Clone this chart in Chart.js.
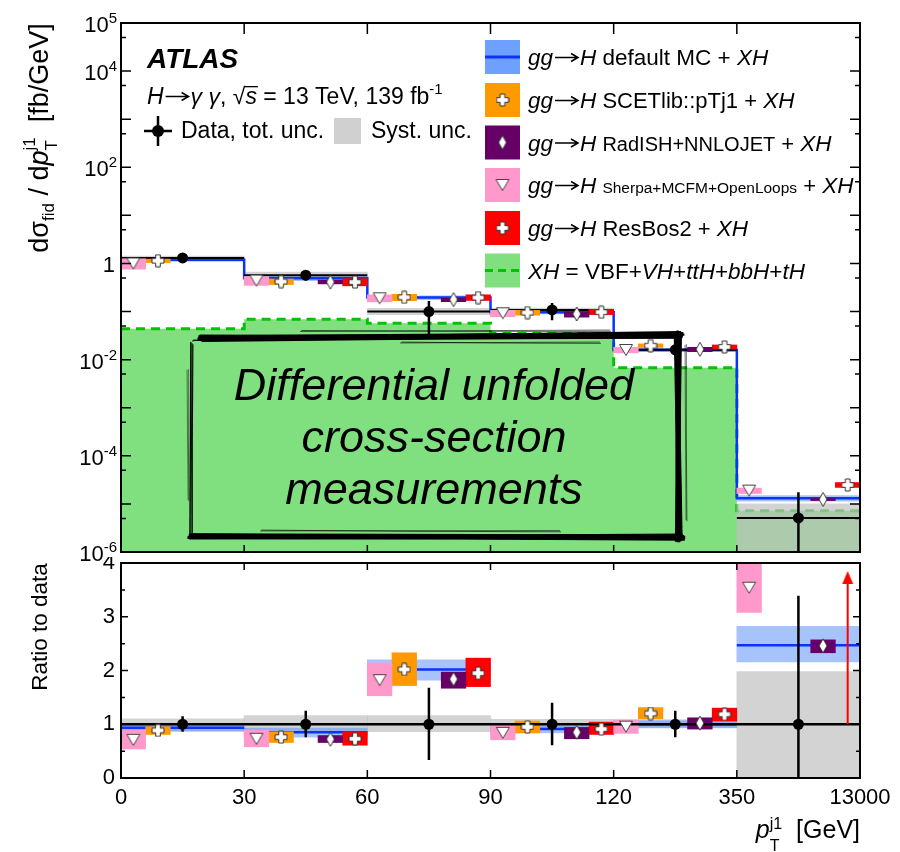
<!DOCTYPE html>
<html>
<head>
<meta charset="utf-8">
<title>pT j1 differential cross-section</title>
<script src="https://cdn.jsdelivr.net/npm/chart.js@4.4.1/dist/chart.umd.min.js"></script>
<style>
  html, body { margin: 0; padding: 0; background: #fff; }
  #wrap { position: relative; width: 900px; height: 852px; }
  canvas { position: absolute; left: 0; }
  #chartTop { top: 0; }
  #chartRatio { top: 557px; }
</style>
</head>
<body>
<div id="wrap">
  <canvas id="chartTop" width="900" height="572"></canvas>
  <canvas id="chartRatio" width="900" height="295"></canvas>
</div>
<script>
// =========================================
// BINS
// =========================================
const binLabels = ['0', '30', '60', '90', '120', '350', '13000'];
const nBins = binLabels.length - 1;

// position of each entry inside a bin (fraction of bin width)
const slotSherpa = 0.1, slotScet = 0.3, slotData = 0.5, slotRadish = 0.7, slotResbos = 0.9;

// =========================================
// DATA  [fb/GeV]
// =========================================
const dataXsec   = [1.30, 0.57, 0.100, 0.108, 0.016, 5.1e-6];
const dataXsecLo = [1.12, 0.44, 0.034, 0.066, 0.012, 1e-7];
const dataXsecHi = [1.50, 0.71, 0.166, 0.150, 0.020, 1.75e-5];

const dataRatio   = [1, 1, 1, 1, 1, 1];
const dataRatioLo = [0.86, 0.76, 0.335, 0.61, 0.76, -0.5];
const dataRatioHi = [1.15, 1.25, 1.68, 1.40, 1.25, 3.39];
const systLo = [0.87, 0.86, 0.86, 0.92, 0.94, 0.02];
const systHi = [1.10, 1.16, 1.16, 1.09, 1.06, 1.98];

// =========================================
// PREDICTIONS
// =========================================
const xhXsec = [0.044, 0.069, 0.057, 0.035, 0.0068, 7.2e-6];

const mcXsec    = [1.20, 0.49, 0.195, 0.097, 0.0159, 1.31e-5];
const mcRatio   = [0.936, 0.85, 2.02, 0.91, 1.00, 2.47];
const mcRatioLo = [0.87, 0.76, 1.82, 0.84, 0.93, 2.16];
const mcRatioHi = [0.98, 0.93, 2.20, 0.97, 1.08, 2.82];

const scetXsec    = [1.14, 0.42, 0.198, 0.095, 0.0195, null];
const scetRatio   = [0.885, 0.76, 2.02, 0.95, 1.20, null];
const scetRatioLo = [0.81, 0.66, 1.72, 0.84, 1.10, null];
const scetRatioHi = [0.955, 0.86, 2.33, 1.06, 1.31, null];

const radishXsec    = [null, 0.41, 0.177, 0.089, 0.0164, 1.24e-5];
const radishRatio   = [null, 0.72, 1.84, 0.85, 1.02, 2.46];
const radishRatioLo = [null, 0.66, 1.67, 0.73, 0.91, 2.33];
const radishRatioHi = [null, 0.79, 1.97, 0.94, 1.12, 2.57];

const sherpaXsec    = [1.00, 0.44, 0.189, 0.092, 0.0159, 1.89e-5];
const sherpaRatio   = [0.71, 0.73, 1.82, 0.84, 0.955, 3.54];
const sherpaRatioLo = [0.54, 0.58, 1.53, 0.71, 0.83, 3.08];
const sherpaRatioHi = [0.89, 0.89, 2.14, 0.97, 1.08, 4.00];

const resbosXsec    = [null, 0.41, 0.195, 0.097, 0.0184, 2.48e-5];
const resbosRatio   = [null, 0.73, 1.95, 0.91, 1.185, 4.90];
const resbosRatioLo = [null, 0.61, 1.70, 0.81, 1.06, 4.35];
const resbosRatioHi = [null, 0.86, 2.23, 1.04, 1.30, 5.50];

// ResBos2 goes off scale in the last bin: arrow from 1 upwards
const resbosArrowBin = 5;
const resbosArrow = [1.0, 3.73];

// =========================================
// STYLE
// =========================================
const FONT = '"Liberation Sans", Arial, Helvetica, sans-serif';
const font = (size, style) => `${style || ''} ${size}px ${FONT}`.trim();

const PINK = '#ff99cc', ORANGE = '#ff9900', PURPLE = '#660066', RED = '#ff0000';
const BLUE = '#0a33ff', BLUE_BAND = 'rgba(95,145,250,0.55)';
const GREEN_FILL = '#80e080', GREEN_LINE = '#00c400';
const SYST = 'rgba(192,192,192,0.7)';

Chart.defaults.font.family = FONT;
Chart.defaults.color = '#000';

const binPx = (900 - 121 - 40) / nBins;
const slotPx = binPx / 5;

// =========================================
// MARKERS
// =========================================
function makeMarker(w, h, pts, fill, stroke){
  const c = document.createElement('canvas');
  c.width = w; c.height = h;
  const g = c.getContext('2d');
  g.beginPath();
  pts.forEach(([x, y], i) => i ? g.lineTo(x, y) : g.moveTo(x, y));
  g.closePath();
  g.fillStyle = fill;
  g.fill();
  if (stroke) { g.strokeStyle = stroke; g.lineWidth = 1; g.stroke(); }
  return c;
}

const plusMark = makeMarker(14, 14,
  [[4.7,1],[9.3,1],[9.3,4.7],[13,4.7],[13,9.3],[9.3,9.3],[9.3,13],[4.7,13],[4.7,9.3],[1,9.3],[1,4.7],[4.7,4.7]],
  '#fff', '#333');
const diamondMark = makeMarker(10, 16, [[5,1],[9,8],[5,15],[1,8]], '#fff', '#333');
const triMark = makeMarker(16, 14, [[1.5,1.5],[14.5,1.5],[8,12.5]], '#fff', '#444');
const arrowMark = makeMarker(12, 13, [[6,0],[11.5,13],[0.5,13]], RED);

// =========================================
// DATASET HELPERS
// =========================================
function steps(vals){
  const pts = vals.map((v, i) => ({ x: i, y: v }));
  pts.push({ x: nBins, y: vals[nBins - 1] });
  return pts;
}

function flats(vals){
  const pts = [];
  vals.forEach((v, i) => {
    if (v == null) return;
    pts.push({ x: i, y: v }, { x: i + 1, y: v }, { x: i + 1, y: null });
  });
  return pts;
}

function vbars(lo, hi, off){
  const pts = [];
  lo.forEach((v, i) => {
    pts.push({ x: i + off, y: v }, { x: i + off, y: hi[i] }, { x: i + off, y: null });
  });
  return pts;
}

function spans(lo, hi, off){
  return lo.map((v, i) => v == null ? null : { x: i + off, y: [v, hi[i]] }).filter(Boolean);
}

// relative band (read in the ratio panel) placed around a cross-section
function spansAround(xsec, ratio, lo, hi, off){
  return xsec.map((v, i) => {
    if (v == null) return null;
    const r = ratio ? ratio[i] : 1;
    return { x: i + off, y: [v * lo[i] / r, v * hi[i] / r] };
  }).filter(Boolean);
}

function marks(vals, off){
  return vals.map((v, i) => v == null ? null : { x: i + off, y: v }).filter(Boolean);
}

const lineDs = (data, color, width, order, extra) => Object.assign({
  type: 'line', data, borderColor: color, borderWidth: width,
  pointRadius: 0, fill: false, spanGaps: false, order
}, extra || {});

const barDs = (data, color, thickness, order) => ({
  type: 'bar', data, backgroundColor: color, borderWidth: 0,
  barThickness: thickness, grouped: false, order, clip: 0
});

const markDs = (data, style, order, extra) => Object.assign({
  type: 'line', data, showLine: false, pointStyle: style,
  pointRadius: 6, borderWidth: 0, order, clip: 0
}, extra || {});

// =========================================
// DRAW HELPERS
// =========================================
function drawRich(ctx, x, y, parts){
  let cx = x;
  parts.forEach(p => {
    if (p.arrow) {
      // thin right arrow, drawn at mid cap height
      const ax = cx + 2, ay = y - 7.5, len = p.arrow - 4;
      ctx.save();
      ctx.strokeStyle = ctx.fillStyle;
      ctx.lineWidth = 1.5;
      ctx.beginPath();
      ctx.moveTo(ax, ay); ctx.lineTo(ax + len, ay);
      ctx.moveTo(ax + len - 7, ay - 4); ctx.lineTo(ax + len, ay); ctx.lineTo(ax + len - 7, ay + 4);
      ctx.stroke();
      ctx.restore();
      cx += p.arrow;
      return;
    }
    ctx.font = p.f;
    const w = ctx.measureText(p.t).width;
    ctx.fillText(p.t, cx, y + (p.dy || 0));
    if (p.over) ctx.fillRect(cx - 1, y - 18, w + 2, 1.3);
    if (!p.stay) cx += w;
  });
  return cx - x;
}

function richWidth(ctx, parts){
  let w = 0;
  parts.forEach(p => {
    if (p.arrow) { w += p.arrow; return; }
    ctx.font = p.f;
    if (!p.stay) w += ctx.measureText(p.t).width;
  });
  return w;
}

function drawFrame(chart, yTicks, topLen, bottomLen){
  const { ctx, chartArea: a, scales: { x, y } } = chart;
  ctx.save();
  ctx.strokeStyle = '#000';
  ctx.lineWidth = 1.5;
  ctx.beginPath();
  for (let i = 1; i < nBins; i++) {
    const px = x.getPixelForValue(i);
    ctx.moveTo(px, a.top); ctx.lineTo(px, a.top + topLen);
    ctx.moveTo(px, a.bottom); ctx.lineTo(px, a.bottom - bottomLen);
  }
  yTicks.forEach(([v, len]) => {
    const py = y.getPixelForValue(v);
    ctx.moveTo(a.left, py); ctx.lineTo(a.left + len, py);
    ctx.moveTo(a.right, py); ctx.lineTo(a.right - len, py);
  });
  ctx.stroke();
  ctx.lineWidth = 2;
  ctx.strokeRect(a.left, a.top, a.right - a.left, a.bottom - a.top);
  ctx.restore();
}

const I = s => font(s, 'italic');
const R = s => font(s);
const ggH = [{ t: 'gg', f: I(22.5) }, { arrow: 27 }, { t: 'H', f: I(22.5) }];
const XH = { t: 'XH', f: I(22.5) };

const legendRows = [
  { fill: 'rgb(110,160,255)', kind: 'line', parts: [...ggH, { t: ' default MC + ', f: R(22.5) }, XH] },
  { fill: ORANGE, kind: plusMark, parts: [...ggH, { t: ' SCETlib::pTj1 + ', f: R(22) }, XH] },
  { fill: PURPLE, kind: diamondMark, parts: [...ggH, { t: ' ', f: R(22) }, { t: 'RadISH+NNLOJET', f: R(20) }, { t: ' + ', f: R(22) }, XH] },
  { fill: PINK, kind: triMark, parts: [...ggH, { t: ' ', f: R(22) }, { t: 'Sherpa+MCFM+OpenLoops', f: R(15.5) }, { t: ' + ', f: R(22) }, XH] },
  { fill: RED, kind: plusMark, parts: [...ggH, { t: ' ResBos2 + ', f: R(22) }, XH] },
  { fill: GREEN_FILL, kind: 'dash', parts: [
    XH, { t: ' = VBF+', f: R(22.5) }, { t: 'VH', f: I(22.5) }, { t: '+', f: R(22.5) },
    { t: 'ttH', f: I(22.5) }, { t: '+', f: R(22.5) }, { t: 'bbH', f: I(22.5) },
    { t: '+', f: R(22.5) }, { t: 'tH', f: I(22.5) }] }
];
const legendY = [57, 100, 142.5, 185, 228, 270.5];

function drawLegend(ctx){
  legendRows.forEach((row, i) => {
    const c = legendY[i];
    ctx.fillStyle = row.fill;
    ctx.fillRect(485, c - 17, 35, 34);
    if (row.kind === 'line') {
      ctx.fillStyle = BLUE;
      ctx.fillRect(485, c - 1.5, 35, 3);
    } else if (row.kind === 'dash') {
      ctx.save();
      ctx.strokeStyle = GREEN_LINE; ctx.lineWidth = 3; ctx.setLineDash([8, 5]);
      ctx.beginPath(); ctx.moveTo(485, c); ctx.lineTo(520, c); ctx.stroke();
      ctx.restore();
    } else {
      ctx.drawImage(row.kind, 502.5 - row.kind.width / 2, c - row.kind.height / 2);
    }
    ctx.fillStyle = '#000';
    drawRich(ctx, 528, c + 8, row.parts);
  });
}

// scribbled frame round the note
const scribble = [[0, 0], [1.3, -0.9], [-1.1, 1.2], [0.7, 2.1], [-1.6, -1.4], [2.2, 0.5], [-0.4, -2.4], [1.8, 2.6], [-2.5, 0.8]];
function sketchEdge(ctx, x0, y0, x1, y1, count, width){
  for (let k = 0; k < count; k++) {
    const [dx, dy] = scribble[k % scribble.length];
    ctx.lineWidth = width * (0.7 + 0.15 * (k % 3));
    ctx.beginPath();
    ctx.moveTo(x0 + dx, y0 + dy);
    ctx.quadraticCurveTo((x0 + x1) / 2 - dy * 0.6, (y0 + y1) / 2 + dx * 0.6, x1 - dy, y1 + dx);
    ctx.stroke();
  }
}

function drawNote(ctx){
  ctx.save();
  ctx.strokeStyle = '#000';
  ctx.lineCap = 'butt';
  sketchEdge(ctx, 200, 338, 682, 335, 9, 3.2);
  sketchEdge(ctx, 192, 341, 204, 339, 2, 1.2);
  sketchEdge(ctx, 678, 333, 679, 540, 9, 3.6);
  sketchEdge(ctx, 683, 537, 190, 536, 8, 2.8);
  sketchEdge(ctx, 191, 538, 192, 343, 3, 1.3);
  // loose hair strokes of the brush
  sketchEdge(ctx, 300, 331.5, 610, 330, 2, 0.8);
  sketchEdge(ctx, 400, 343, 600, 342, 2, 0.8);
  sketchEdge(ctx, 685, 345, 686, 520, 2, 0.7);
  sketchEdge(ctx, 260, 531, 560, 530.5, 2, 0.8);
  sketchEdge(ctx, 187, 370, 188, 500, 2, 0.6);
  ctx.fillStyle = '#000';
  ctx.font = font(45, 'italic');
  ctx.textAlign = 'center';
  ctx.fillText('Differential unfolded', 434, 400);
  ctx.fillText('cross-section', 434, 452);
  ctx.fillText('measurements', 434, 504);
  ctx.restore();
}

// =========================================
// TOP PANEL
// =========================================
const logTicks = [];
for (let e = -6; e <= 5; e++) {
  logTicks.push([Math.pow(10, e), 10]);
  if (e < 5) logTicks.push([5 * Math.pow(10, e), 5]);
}
const logLabelExps = [5, 4, 2, 0, -2, -4, -6];

const topDecor = {
  id: 'topDecor',
  afterDraw(chart){
    const { ctx, scales: { y } } = chart;
    drawFrame(chart, logTicks, 11, 7);

    // decade labels
    ctx.save();
    ctx.fillStyle = '#000';
    ctx.textAlign = 'right';
    logLabelExps.forEach(e => {
      const py = y.getPixelForValue(Math.pow(10, e)) + 9;
      if (e === 0) { ctx.font = R(22); ctx.fillText('1', 115, py); return; }
      const ex = String(e);
      ctx.font = R(15);
      ctx.fillText(ex, 117, py - 9);
      const w = ctx.measureText(ex).width;
      ctx.font = R(22);
      ctx.fillText('10', 117 - w, py);
    });
    ctx.restore();

    // y title
    ctx.save();
    ctx.fillStyle = '#000';
    const title = [
      { t: 'd\u03C3', f: R(27) },
      { t: 'fid', f: R(17), dy: 6 },
      { t: ' / d', f: R(27) },
      { t: 'p', f: I(27) },
      { t: 'T', f: R(17), dy: 9, stay: true },
      { t: 'j1', f: R(17), dy: -13 },
      { t: '  [fb/GeV]', f: R(27) }
    ];
    const tw = richWidth(ctx, title);
    ctx.translate(48, 138 + tw / 2);
    ctx.rotate(-Math.PI / 2);
    drawRich(ctx, 0, 0, title);
    ctx.restore();

    // labels
    ctx.save();
    ctx.fillStyle = '#000';
    ctx.font = font(28, 'italic bold');
    ctx.fillText('ATLAS', 147, 68);
    drawRich(ctx, 147, 104, [
      { t: 'H', f: I(23) }, { arrow: 27 }, { t: '\u03B3 \u03B3', f: I(23) },
      { t: ', ', f: R(23) }, { t: '\u221A', f: R(23) }, { t: 's', f: I(23), over: true },
      { t: ' = 13 TeV, 139 fb', f: R(23) }, { t: '-1', f: R(15), dy: -10 }
    ]);

    ctx.strokeStyle = '#000';
    ctx.lineWidth = 2.5;
    ctx.beginPath();
    ctx.moveTo(144, 131); ctx.lineTo(172, 131);
    ctx.moveTo(158, 116); ctx.lineTo(158, 146);
    ctx.stroke();
    ctx.beginPath(); ctx.arc(158, 131, 6, 0, 2 * Math.PI); ctx.fill();
    ctx.font = R(23);
    ctx.fillText('Data, tot. unc.', 181, 138);
    ctx.fillStyle = '#d0d0d0';
    ctx.fillRect(334, 118, 27, 26);
    ctx.fillStyle = '#000';
    ctx.fillText('Syst. unc.', 371, 138);

    drawLegend(ctx);
    drawNote(ctx);
    ctx.restore();
  }
};

new Chart(document.getElementById('chartTop'), {
  type: 'line',
  data: {
    datasets: [
      lineDs(steps(xhXsec), GREEN_LINE, 3, 100, { stepped: true, fill: 'start', backgroundColor: GREEN_FILL, borderDash: [9, 6] }),
      barDs(spansAround(dataXsec, null, systLo, systHi, slotData), SYST, binPx, 90),
      barDs(spansAround(mcXsec, mcRatio, mcRatioLo, mcRatioHi, slotData), BLUE_BAND, binPx, 80),
      lineDs(steps(mcXsec), BLUE, 2.5, 70, { stepped: true }),
      lineDs(flats(dataXsec), '#000', 2, 60),

      barDs(spansAround(sherpaXsec, sherpaRatio, sherpaRatioLo, sherpaRatioHi, slotSherpa), PINK, slotPx, 50),
      barDs(spansAround(scetXsec, scetRatio, scetRatioLo, scetRatioHi, slotScet), ORANGE, slotPx, 50),
      barDs(spansAround(radishXsec, radishRatio, radishRatioLo, radishRatioHi, slotRadish), PURPLE, slotPx, 50),
      barDs(spansAround(resbosXsec, resbosRatio, resbosRatioLo, resbosRatioHi, slotResbos), RED, slotPx, 50),

      markDs(marks(sherpaXsec, slotSherpa), triMark, 40),
      markDs(marks(scetXsec, slotScet), plusMark, 40),
      markDs(marks(radishXsec, slotRadish), diamondMark, 40),
      markDs(marks(resbosXsec, slotResbos), plusMark, 40),

      lineDs(vbars(dataXsecLo, dataXsecHi, slotData), '#000', 2.5, 30),
      markDs(marks(dataXsec, slotData), 'circle', 20, { pointRadius: 5.5, backgroundColor: '#000', borderColor: '#000' })
    ]
  },
  options: {
    responsive: false,
    animation: false,
    events: [],
    layout: { padding: { left: 121, right: 40, top: 23, bottom: 20 } },
    plugins: { legend: { display: false }, tooltip: { enabled: false } },
    scales: {
      x: { type: 'linear', min: 0, max: nBins, offset: false, display: false },
      y: { type: 'logarithmic', min: 1e-6, max: 1e5, display: false }
    }
  },
  plugins: [topDecor]
});

// =========================================
// RATIO PANEL
// =========================================
const ratioTicks = [];
for (let v = 0; v <= 4; v += 0.5) ratioTicks.push([v, Number.isInteger(v) ? 7 : 4]);

const ratioDecor = {
  id: 'ratioDecor',
  afterDraw(chart){
    const { ctx } = chart;
    drawFrame(chart, ratioTicks, 7, 8);

    ctx.save();
    ctx.fillStyle = '#000';
    ctx.font = R(22.5);
    ctx.textAlign = 'center';
    ctx.translate(47, 70);
    ctx.rotate(-Math.PI / 2);
    ctx.fillText('Ratio to data', 0, 0);
    ctx.restore();

    ctx.save();
    ctx.fillStyle = '#000';
    const xt = [
      { t: 'p', f: I(25) },
      { t: 'T', f: R(16), dy: 13, stay: true },
      { t: 'j1', f: R(16), dy: -9 },
      { t: '  [GeV]', f: R(25) }
    ];
    drawRich(ctx, 860 - richWidth(ctx, xt), 281, xt);
    ctx.restore();
  }
};

new Chart(document.getElementById('chartRatio'), {
  type: 'line',
  data: {
    datasets: [
      barDs(spans(systLo, systHi, slotData), SYST, binPx, 90),
      barDs(spans(mcRatioLo, mcRatioHi, slotData), BLUE_BAND, binPx, 80),
      lineDs(flats(mcRatio), BLUE, 2.5, 70),

      barDs(spans(sherpaRatioLo, sherpaRatioHi, slotSherpa), PINK, slotPx, 60),
      barDs(spans(scetRatioLo, scetRatioHi, slotScet), ORANGE, slotPx, 60),
      barDs(spans(radishRatioLo, radishRatioHi, slotRadish), PURPLE, slotPx, 60),
      barDs(spans(resbosRatioLo, resbosRatioHi, slotResbos), RED, slotPx, 60),

      lineDs([{ x: 0, y: 1 }, { x: nBins, y: 1 }], '#000', 2.5, 55),

      markDs(marks(sherpaRatio, slotSherpa), triMark, 40),
      markDs(marks(scetRatio, slotScet), plusMark, 40),
      markDs(marks(radishRatio, slotRadish), diamondMark, 40),
      markDs(marks(resbosRatio, slotResbos), plusMark, 40),

      lineDs([{ x: resbosArrowBin + slotResbos, y: resbosArrow[0] }, { x: resbosArrowBin + slotResbos, y: resbosArrow[1] }], RED, 2, 35),
      markDs([{ x: resbosArrowBin + slotResbos, y: resbosArrow[1] }], arrowMark, 34),

      lineDs(vbars(dataRatioLo, dataRatioHi, slotData), '#000', 2.5, 30),
      markDs(marks(dataRatio, slotData), 'circle', 20, { pointRadius: 5.5, backgroundColor: '#000', borderColor: '#000' })
    ]
  },
  options: {
    responsive: false,
    animation: false,
    events: [],
    layout: { padding: { left: 0, right: 40, top: 6, bottom: 0 } },
    plugins: { legend: { display: false }, tooltip: { enabled: false } },
    scales: {
      x: {
        type: 'linear', min: 0, max: nBins, offset: false,
        grid: { display: false, drawTicks: false }, border: { display: false },
        ticks: { stepSize: 1, autoSkip: false, maxRotation: 0, padding: 7, color: '#000',
                 font: { size: 22 }, callback: v => binLabels[v] },
        afterFit: s => { s.height = 74; s.paddingLeft = 0; s.paddingRight = 0; }
      },
      y: {
        min: 0, max: 4,
        grid: { display: false, drawTicks: false }, border: { display: false },
        ticks: { stepSize: 1, padding: 6, color: '#000', font: { size: 22 } },
        afterFit: s => { s.width = 121; s.paddingTop = 0; s.paddingBottom = 0; }
      }
    }
  },
  plugins: [ratioDecor]
});
</script>
</body>
</html>
